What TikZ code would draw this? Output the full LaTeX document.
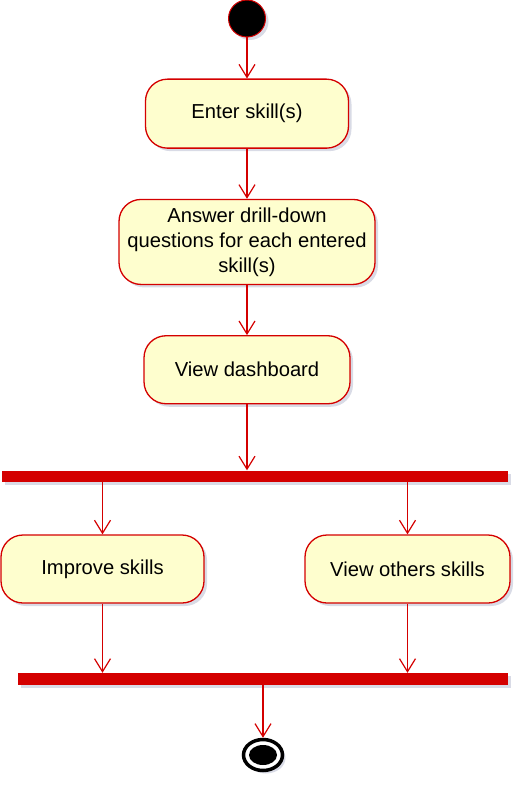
\documentclass[tikz,border=0pt]{standalone}
\usepackage{fontspec}
\setmainfont{Liberation Sans}
\usepackage{tikz}
\usetikzlibrary{arrows.meta, shapes.geometric, shadows, positioning}
\usepackage{xcolor}
\definecolor{umlred}{HTML}{D40000}
\definecolor{umlfill}{HTML}{FEFECE}
\definecolor{umlshadow}{HTML}{C9CCDB}

\begin{document}
\begin{tikzpicture}[x=1pt, y=-1pt, node distance=50pt,
		sombra/.style={drop shadow={shadow xshift=3pt, shadow yshift=-3pt, fill=umlshadow, opacity=0.7}},
		atividade/.style={draw=umlred, fill=umlfill, line width=1.3pt, rounded corners=22pt, minimum width=203pt, minimum height=68pt, align=center, font=\fontsize{20.2}{25}\selectfont, sombra},
		barra/.style={fill=umlred, inner sep=0pt, minimum height=11pt, sombra},
		seta/.style={-{Straight Barb[length=13pt,width=16pt]}, umlred, line width=1.2pt}]
		\useasboundingbox (0,0) rectangle (520,786);
		\node[circle, fill=black, draw=umlred, line width=1pt, minimum size=37pt, inner sep=0pt, sombra] (inicio) at (247,18.5) {};
		\node[atividade, below=41pt of inicio, minimum height=69pt] (entrar) {Enter skill(s)};
		\node[atividade, below=of entrar, minimum width=256pt, minimum height=85pt] (respostas) {Answer drill-down\\questions for each entered\\skill(s)};
		\node[atividade, below=of respostas, minimum width=206pt] (painel) {View dashboard};
		\node[barra, minimum width=506pt] (barra1) at (255,476) {};
		\node[atividade] (melhorar) at (102.5,569) {Improve skills};
		\node[atividade, minimum width=205pt] (outros) at (407.5,569) {View others skills};
		\node[barra, minimum width=490pt, minimum height=12pt] (barra2) at (263,679) {};
		\node[ellipse, draw=black, line width=3.5pt, fill=white, minimum width=39pt, minimum height=31pt, inner sep=0pt, sombra] (fim) at (263,755) {};
		\node[ellipse, fill=black, minimum width=28pt, minimum height=20pt, inner sep=0pt] (fimmiolo) at (fim.center) {};
		\draw[seta] (inicio) -- (entrar);
		\draw[seta] (entrar) -- (respostas);
		\draw[seta] (respostas) -- (painel);
		\draw[seta] (painel) -- (painel |- barra1.north);
		\draw[seta] (barra1.south -| melhorar) -- (melhorar);
		\draw[seta] (barra1.south -| outros) -- (outros);
		\draw[seta] (melhorar) -- (melhorar |- barra2.north);
		\draw[seta] (outros) -- (outros |- barra2.north);
		\draw[seta] (barra2) -- (fim);
\end{tikzpicture}
\end{document}
